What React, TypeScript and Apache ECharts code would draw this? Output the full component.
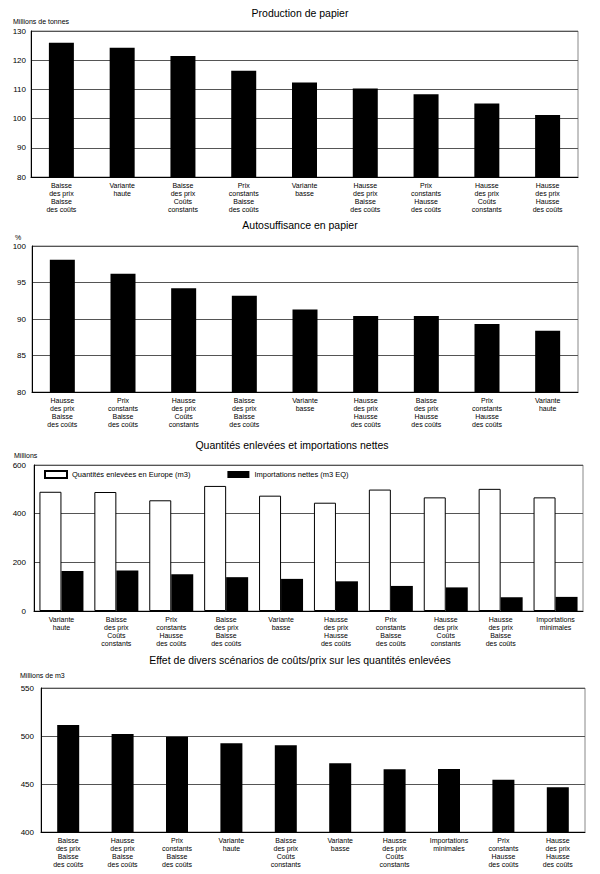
import React, { useEffect, useRef } from "react";
import * as echarts from "echarts";

const productionCategories = [
  "Baisse\ndes prix\nBaisse\ndes coûts",
  "Variante\nhaute",
  "Baisse\ndes prix\nCoûts\nconstants",
  "Prix\nconstants\nBaisse\ndes coûts",
  "Variante\nbasse",
  "Hausse\ndes prix\nBaisse\ndes coûts",
  "Prix\nconstants\nHausse\ndes coûts",
  "Hausse\ndes prix\nCoûts\nconstants",
  "Hausse\ndes prix\nHausse\ndes coûts",
];
const productionValues = [126, 124.3, 121.4, 116.4, 112.4, 110.3, 108.3, 105.2, 101.2];

const autoCategories = [
  "Hausse\ndes prix\nBaisse\ndes coûts",
  "Prix\nconstants\nBaisse\ndes coûts",
  "Hausse\ndes prix\nCoûts\nconstants",
  "Baisse\ndes prix\nBaisse\ndes coûts",
  "Variante\nbasse",
  "Hausse\ndes prix\nHausse\ndes coûts",
  "Baisse\ndes prix\nHausse\ndes coûts",
  "Prix\nconstants\nHausse\ndes coûts",
  "Variante\nhaute",
];
const autoValues = [98.1, 96.2, 94.2, 93.2, 91.3, 90.4, 90.4, 89.3, 88.4];

const quantCategories = [
  "Variante\nhaute",
  "Baisse\ndes prix\nCoûts\nconstants",
  "Prix\nconstants\nHausse\ndes coûts",
  "Baisse\ndes prix\nBaisse\ndes coûts",
  "Variante\nbasse",
  "Hausse\ndes prix\nHausse\ndes coûts",
  "Prix\nconstants\nBaisse\ndes coûts",
  "Hausse\ndes prix\nCoûts\nconstants",
  "Hausse\ndes prix\nBaisse\ndes coûts",
  "Importations\nminimales",
];
const quantEurope = [490, 489, 455, 514, 474, 445, 499, 467, 502, 467];
const quantImports = [164, 166, 151, 139, 132, 122, 103, 97, 56, 58];

const effetCategories = [
  "Baisse\ndes prix\nBaisse\ndes coûts",
  "Hausse\ndes prix\nBaisse\ndes coûts",
  "Prix\nconstants\nBaisse\ndes coûts",
  "Variante\nhaute",
  "Baisse\ndes prix\nCoûts\nconstants",
  "Variante\nbasse",
  "Hausse\ndes prix\nCoûts\nconstants",
  "Importations\nminimales",
  "Prix\nconstants\nHausse\ndes coûts",
  "Hausse\ndes prix\nHausse\ndes coûts",
];
const effetValues = [511.5, 502, 499.3, 492.4, 490.3, 471.5, 465.3, 465.5, 454.5, 446.6];

const titles = [
  "Production de papier",
  "Autosuffisance en papier",
  "Quantités enlevées et importations nettes",
  "Effet de divers scénarios de coûts/prix sur les quantités enlevées",
];
const unitLabels = ["Millions de tonnes", "%", "Millions", "Millions de m3"];
const legendNames = ["Quantités enlevées en Europe (m3)", "Importations nettes (m3 EQ)"];

const FONT = '"Liberation Sans", Arial, Helvetica, sans-serif';
const INK = "#000";

export default function App() {
  const ref = useRef<HTMLDivElement>(null);

  useEffect(() => {
    if (!ref.current) return;
    const chart = echarts.init(ref.current, undefined, { renderer: "svg" });

    const grids = [
      { left: 31, top: 31, width: 547, height: 146 },
      { left: 32, top: 246, width: 546, height: 146 },
      { left: 34, top: 465, width: 549, height: 146 },
      { left: 41, top: 688, width: 544, height: 144 },
    ].map((g) => ({ ...g, show: true, borderColor: "#888", borderWidth: 1, backgroundColor: "transparent" }));

    const xCats = [productionCategories, autoCategories, quantCategories, effetCategories];
    const xAxis = xCats.map((cats, i) => ({
      type: "category",
      gridIndex: i,
      data: cats,
      axisLine: { lineStyle: { color: "#000", width: 1 } },
      axisTick: { show: false },
      axisLabel: {
        interval: 0,
        color: INK,
        fontFamily: FONT,
        fontSize: 7,
        lineHeight: 8,
        margin: 4,
      },
    }));

    const yRanges = [
      { min: 80, max: 130, interval: 10, margin: 5 },
      { min: 80, max: 100, interval: 5, margin: 6 },
      { min: 0, max: 600, interval: 200, margin: 8 },
      { min: 400, max: 550, interval: 50, margin: 7 },
    ];
    const yAxis = yRanges.map((r, i) => ({
      type: "value",
      gridIndex: i,
      min: r.min,
      max: r.max,
      interval: r.interval,
      axisLine: { show: true, lineStyle: { color: "#000", width: 1 } },
      axisTick: { show: false },
      axisLabel: { color: INK, fontFamily: FONT, fontSize: 8, margin: r.margin },
      splitLine: { show: true, lineStyle: { color: "#555", width: 1 } },
    }));

    const series: any[] = [
      {
        type: "bar",
        xAxisIndex: 0,
        yAxisIndex: 0,
        data: productionValues,
        barWidth: 25,
        itemStyle: { color: "#000" },
      },
      {
        type: "bar",
        xAxisIndex: 1,
        yAxisIndex: 1,
        data: autoValues,
        barWidth: 25,
        itemStyle: { color: "#000" },
      },
      {
        type: "bar",
        name: legendNames[0],
        xAxisIndex: 2,
        yAxisIndex: 2,
        data: quantEurope,
        barWidth: 22,
        barGap: "0%",
        itemStyle: { color: "#fff", borderColor: "#000", borderWidth: 1 },
      },
      {
        type: "bar",
        name: legendNames[1],
        xAxisIndex: 2,
        yAxisIndex: 2,
        data: quantImports,
        barWidth: 22,
        barGap: "0%",
        itemStyle: { color: "#000" },
      },
      {
        type: "bar",
        xAxisIndex: 3,
        yAxisIndex: 3,
        data: effetValues,
        barWidth: 22,
        itemStyle: { color: "#000" },
      },
    ];

    const titleYs = [13, 225, 445, 660];
    const titleXs = [300, 300, 292, 300];
    const unitPos = [
      [13, 21],
      [15, 237],
      [14, 455],
      [20, 675],
    ];

    const graphic: any[] = [];
    titles.forEach((t, i) => {
      graphic.push({
        type: "text",
        x: titleXs[i],
        y: titleYs[i],
        style: {
          text: t,
          fill: INK,
          font: `10.5px ${FONT}`,
          textAlign: "center",
          textVerticalAlign: "middle",
        },
      });
    });
    unitLabels.forEach((t, i) => {
      graphic.push({
        type: "text",
        x: unitPos[i][0],
        y: unitPos[i][1],
        style: {
          text: t,
          fill: INK,
          font: `7px ${FONT}`,
          textAlign: "left",
          textVerticalAlign: "middle",
        },
      });
    });

    chart.setOption({
      animation: false,
      backgroundColor: "#fff",
      textStyle: { fontFamily: FONT },
      grid: grids,
      xAxis,
      yAxis,
      legend: {
        left: 39,
        top: 465,
        orient: "horizontal",
        itemWidth: 22,
        itemHeight: 7,
        itemGap: 37,
        icon: "rect",
        selectedMode: false,
        data: legendNames,
        textStyle: { color: INK, fontFamily: FONT, fontSize: 7.5, padding: [0, 0, 0, 0] },
      },
      series,
      graphic,
    });

    return () => chart.dispose();
  }, []);

  return (
    <div
      ref={ref}
      style={{ position: "absolute", left: 0, top: 0, width: 600, height: 874, background: "#fff" }}
    />
  );
}
